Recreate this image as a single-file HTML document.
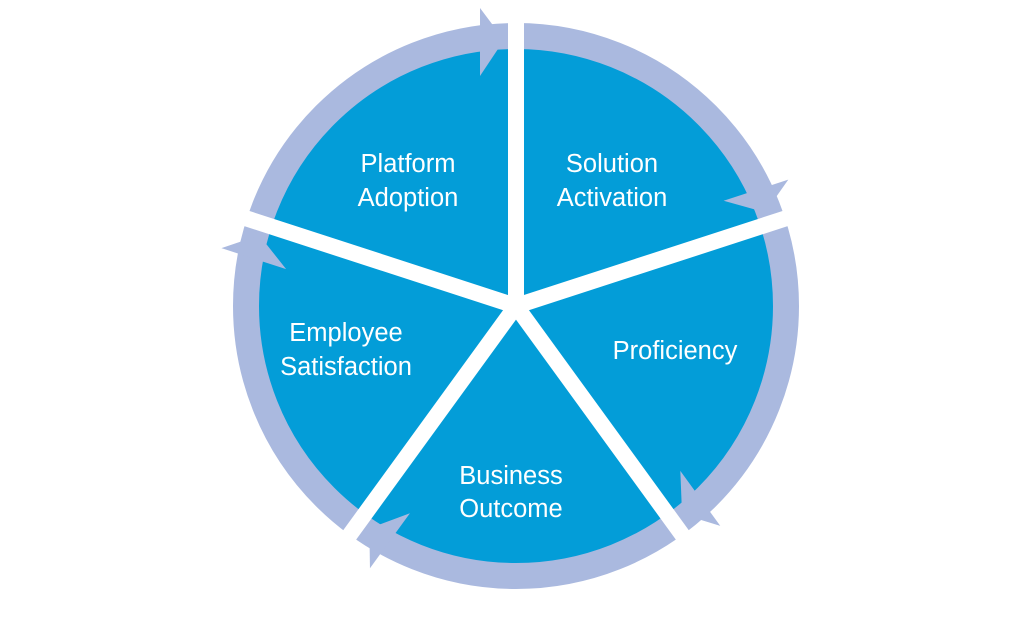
<!DOCTYPE html>
<html><head><meta charset="utf-8"><style>
html,body{margin:0;padding:0;background:#fff;}
svg{display:block}
text{font-family:"Liberation Sans",sans-serif;font-size:25.5px;fill:#fff;text-anchor:middle}
</style></head><body>
<svg width="1024" height="618" viewBox="0 0 1024 618">
<circle cx="516" cy="306" r="258" fill="#039dd8"/>
<circle cx="516" cy="306" r="270" fill="none" stroke="#aab9df" stroke-width="26"/>
<g stroke="#fff" stroke-width="16">
<line x1="516" y1="306" x2="516" y2="0"/>
<line x1="516" y1="306" x2="516" y2="0" transform="rotate(72 516 306)"/>
<line x1="516" y1="306" x2="516" y2="0" transform="rotate(144 516 306)"/>
<line x1="516" y1="306" x2="516" y2="0" transform="rotate(216 516 306)"/>
<line x1="516" y1="306" x2="516" y2="0" transform="rotate(288 516 306)"/>
</g>
<g fill="#aab9df">
<polygon points="480,8 504,40 480,76"/>
<polygon points="480,8 504,40 480,76" transform="rotate(72 516 306)"/>
<polygon points="480,8 504,40 480,76" transform="rotate(144 516 306)"/>
<polygon points="480,8 504,40 480,76" transform="rotate(216 516 306)"/>
<polygon points="480,8 504,40 480,76" transform="rotate(288 516 306)"/>
</g>
<text x="408" y="172">Platform</text>
<text x="408" y="206">Adoption</text>
<text x="612" y="172">Solution</text>
<text x="612" y="206">Activation</text>
<text x="675" y="359">Proficiency</text>
<text x="346" y="341">Employee</text>
<text x="346" y="375">Satisfaction</text>
<text x="511" y="484">Business</text>
<text x="511" y="517">Outcome</text>
</svg>
</body></html>
